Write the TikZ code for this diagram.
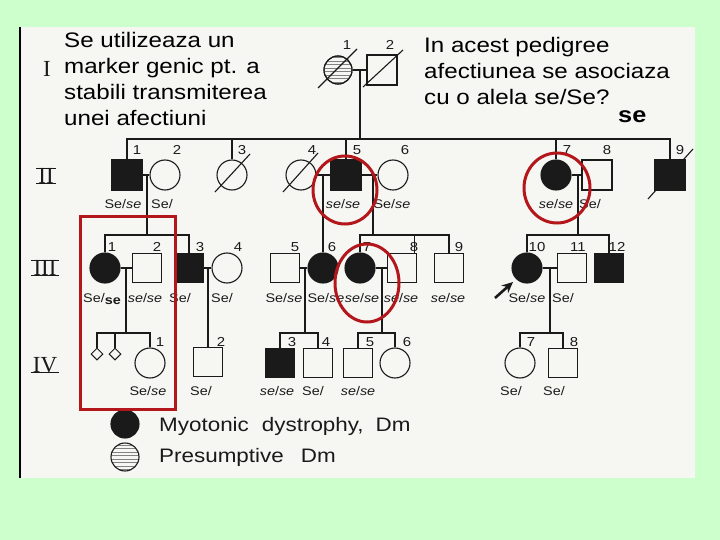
\documentclass[tikz,border=0pt]{standalone}
\usepackage{fontspec}
\setmainfont{Liberation Sans}[FakeStretch=1.15]
\newfontfamily\romanfont{Liberation Serif}
\usetikzlibrary{arrows.meta,shapes.geometric}
\definecolor{bgc}{HTML}{CCFFCC}
\definecolor{paper}{HTML}{F6F6F3}
\definecolor{ink}{HTML}{1A1A1A}
\definecolor{redc}{HTML}{B3161B}
\tikzset{
 ln/.style={draw=ink, line width=1.1pt},
 sq/.style={rectangle, draw=ink, line width=1.1pt, minimum size=29pt, inner sep=0pt},
 ci/.style={circle, draw=ink, line width=1.1pt, minimum size=30pt, inner sep=0pt},
 aff/.style={fill=ink},
 dia/.style={diamond, draw=ink, line width=1pt, minimum size=12pt, inner sep=0pt},
 num/.style={font=\fontsize{13}{13}\selectfont, text=ink, inner sep=0pt},
 gt/.style={font=\fontsize{12.5}{13}\selectfont, text=ink, inner sep=0pt, anchor=base},
 slidetxt/.style={font=\fontsize{21}{26}\selectfont, anchor=base west, inner sep=0pt, text=black},
 legtxt/.style={font=\fontsize{19.5}{22}\selectfont, anchor=base west, inner sep=0pt, text=ink},
 gennum/.style={font=\romanfont\fontsize{23}{23}\selectfont, inner sep=0pt, text=ink},
 genbar/.style={draw=ink, line width=1.4pt},
 redmark/.style={draw=redc, line width=3pt},
 hatch/.style={draw=ink!55, line width=0.45pt},
}
\begin{document}
\begin{tikzpicture}[x=1pt,y=-1pt]
\useasboundingbox (0,0) rectangle (720,540);
\fill[bgc] (0,0) rectangle (720,540);
\fill[paper] (20,27) rectangle (695,478);
\draw[black, line width=2pt] (20,27) -- (20,478);

% slide texts
\node[slidetxt] (ta) at (64,48) {Se utilizeaza un};
\node[slidetxt] (tb) at (64,74) {marker genic pt. a};
\node[slidetxt] (tc) at (64,100) {stabili transmiterea};
\node[slidetxt] (td) at (64,126) {unei afectiuni};
\node[slidetxt] (ra) at (424,53) {In acest pedigree};
\node[slidetxt] (rb) at (424,79) {afectiunea se asociaza};
\node[slidetxt] (rc) at (424,105) {cu o alela se/Se?};
\node[slidetxt, font=\fontsize{22}{22}\selectfont\bfseries] (rd) at (618,123) {se};

% generation numerals
\node[gennum] (gI) at (47,69) {I};
\node[gennum] (gII) at (46,176) {II};
\draw[genbar] ([xshift=-2pt]gII.north west) -- ([xshift=2pt]gII.north east);
\draw[genbar] ([xshift=-2pt]gII.base west) -- ([xshift=2pt]gII.base east);
\node[gennum] (gIII) at (45,268) {III};
\draw[genbar] ([xshift=-2pt]gIII.north west) -- ([xshift=2pt]gIII.north east);
\draw[genbar] ([xshift=-2pt]gIII.base west) -- ([xshift=2pt]gIII.base east);
\node[gennum] (gIV) at (45,365) {IV};
\draw[genbar] ([xshift=-2pt]gIV.base west) -- ([xshift=2pt]gIV.base east);

% generation I
\node[ci, minimum size=28pt] (I1) at (338,70) {};
\begin{scope}
\clip (338,70) circle [radius=14pt];
\foreach \yy in {57.5,61,...,84} \draw[hatch] (322,\yy) -- (354,\yy);
\end{scope}
\node[ci, fill=none, minimum size=28pt] (I1b) at (338,70) {};
\node[sq, minimum size=30pt] (I2) at (382,70) {};
\draw[ln] ([shift={(-20,18)}]I1.center) -- ([shift={(19,-21)}]I1.center);
\draw[ln] ([shift={(-19,17)}]I2.center) -- ([shift={(21,-20)}]I2.center);
\node[num] (nI1) at (347,45) {1};
\node[num] (nI2) at (390,45) {2};

% generation II
\node[sq, aff, minimum size=30pt] (II1) at (127,175) {};
\node[ci] (II2) at (165,175) {};
\node[ci] (II3) at (232,175) {};
\node[ci] (II4) at (301,175) {};
\node[sq, aff, minimum size=30pt] (II5) at (346,175) {};
\node[ci] (II6) at (393,175) {};
\node[ci, aff] (II7) at (556,175) {};
\node[sq, minimum size=30pt] (II8) at (597,175) {};
\node[sq, aff, minimum size=30pt] (II9) at (670,175) {};
\draw[ln] ([shift={(-17,17)}]II3.center) -- ([shift={(18,-21)}]II3.center);
\draw[ln] ([shift={(-18,17)}]II4.center) -- ([shift={(17,-22)}]II4.center);
\draw[ln] ([shift={(-22,24)}]II9.center) -- ([shift={(23,-26)}]II9.center);
\node[num] (nII1) at (137,150) {1};
\node[num] (nII2) at (177,150) {2};
\node[num] (nII3) at (242,150) {3};
\node[num] (nII4) at (312,150) {4};
\node[num] (nII5) at (357,150) {5};
\node[num] (nII6) at (405,150) {6};
\node[num] (nII7) at (567,150) {7};
\node[num] (nII8) at (607,150) {8};
\node[num] (nII9) at (680,150) {9};

% generation III
\node[ci, aff] (III1) at (105,268) {};
\node[sq] (III2) at (147,268) {};
\node[sq, aff] (III3) at (189,268) {};
\node[ci] (III4) at (227,268) {};
\node[sq] (III5) at (285,268) {};
\node[ci, aff] (III6) at (323,268) {};
\node[ci, aff] (III7) at (360,268) {};
\node[sq] (III8) at (402,268) {};
\node[sq] (III9) at (449,268) {};
\node[ci, aff] (III10) at (527,268) {};
\node[sq] (III11) at (572,268) {};
\node[sq, aff] (III12) at (609,268) {};
\node[num] (nIII1) at (112,247) {1};
\node[num] (nIII2) at (157,247) {2};
\node[num] (nIII3) at (200,247) {3};
\node[num] (nIII4) at (238,247) {4};
\node[num] (nIII5) at (295,247) {5};
\node[num] (nIII6) at (332,247) {6};
\node[num] (nIII7) at (367,247) {7};
\node[num] (nIII8) at (414,247) {8};
\node[num] (nIII9) at (459,247) {9};
\node[num] (nIII10) at (537,247) {10};
\node[num] (nIII11) at (578,247) {11};
\node[num] (nIII12) at (617,247) {12};

% generation IV
\node[dia] (IVd1) at (97,354) {};
\node[dia] (IVd2) at (115,354) {};
\node[ci] (IV1) at (150,363) {};
\node[sq] (IV2) at (208,362) {};
\node[sq, aff] (IV3) at (280,363) {};
\node[sq] (IV4) at (318,363) {};
\node[sq] (IV5) at (358,363) {};
\node[ci] (IV6) at (395,363) {};
\node[ci] (IV7) at (520,363) {};
\node[sq] (IV8) at (563,363) {};
\node[num] (nIV1) at (160,342) {1};
\node[num] (nIV2) at (221,342) {2};
\node[num] (nIV3) at (292,342) {3};
\node[num] (nIV4) at (326,342) {4};
\node[num] (nIV5) at (370,342) {5};
\node[num] (nIV6) at (407,342) {6};
\node[num] (nIV7) at (531,342) {7};
\node[num] (nIV8) at (574,342) {8};

% connectors: generation I -> II
\draw[ln] (I1) -- (I2);
\coordinate (cI) at (360,70);
\coordinate (hI) at (360,139);
\draw[ln] (cI) -- (hI);
\draw[ln] (hI) -| (II1);
\draw[ln] (hI) -| (II3);
\draw[ln] (hI) -| (II5);
\draw[ln] (hI) -| (II7);
\draw[ln] (hI) -| (II9);

% generation II -> III
\draw[ln] (II1) -- (II2);
\coordinate (c21) at (147,175);
\coordinate (h21) at (147,235);
\draw[ln] (c21) -- (h21);
\draw[ln] (h21) -| (III1);
\draw[ln] (h21) -| (III3);
\draw[ln] (II4) -- (II5);
\coordinate (c45) at (323,175);
\draw[ln] (c45) -- (III6);
\draw[ln] (II5) -- (II6);
\coordinate (c56) at (373,175);
\coordinate (h56) at (373,235);
\draw[ln] (c56) -- (h56);
\draw[ln] (h56) -| (III7);
\draw[ln] (h56) -| ([xshift=-3pt]III8.north east);
\draw[ln] (h56) -| (III9);
\draw[ln] (II7) -- (II8);
\coordinate (c78) at (578,175);
\coordinate (h78) at (578,235);
\draw[ln] (c78) -- (h78);
\draw[ln] (h78) -| (III10);
\draw[ln] (h78) -| (III12);

% generation III -> IV
\draw[ln] (III1) -- (III2);
\coordinate (c3a) at (126,268);
\coordinate (h3a) at (126,333);
\draw[ln] (c3a) -- (h3a);
\draw[ln] (h3a) -| (IVd1);
\draw[ln] (h3a) -| (IVd2);
\draw[ln] (h3a) -| (IV1);
\draw[ln] (III3) -- (III4);
\coordinate (c3b) at (208,268);
\draw[ln] (c3b) -- (IV2);
\draw[ln] (III5) -- (III6);
\coordinate (c3c) at (305,268);
\coordinate (h3c) at (305,333);
\draw[ln] (c3c) -- (h3c);
\draw[ln] (h3c) -| (IV3);
\draw[ln] (h3c) -| (IV4);
\draw[ln] (III7) -- (III8);
\coordinate (c3d) at (382,268);
\coordinate (h3d) at (382,333);
\draw[ln] (c3d) -- (h3d);
\draw[ln] (h3d) -| (IV5);
\draw[ln] (h3d) -| (IV6);
\draw[ln] (III10) -- (III11);
\coordinate (c3e) at (550,268);
\coordinate (h3e) at (550,333);
\draw[ln] (c3e) -- (h3e);
\draw[ln] (h3e) -| (IV7);
\draw[ln] (h3e) -| (IV8);

% proband arrow
\draw[ink, line width=2.6pt, -{Stealth[length=11pt,width=10pt]}] ([shift={(-32,30)}]III10.center) -- ([shift={(-14,14)}]III10.center);

% genotype labels generation II
\node[gt] (gII1) at (123,208) {Se/\textit{se}};
\node[gt] (gII2) at (162,208) {Se/};
\node[gt] (gII5) at (343,208) {\textit{se}/\textit{se}};
\node[gt] (gII6) at (392,208) {Se/\textit{se}};
\node[gt] (gII7) at (556,208) {\textit{se}/\textit{se}};
\node[gt] (gII8) at (590,208) {Se/};
% generation III
\node[gt, anchor=base west] (gIII1) at (83,302) {Se/\raisebox{-2pt}{\bfseries se}};
\node[gt] (gIII2) at (145,302) {\textit{se}/\textit{se}};
\node[gt] (gIII3) at (180,302) {Se/};
\node[gt] (gIII4) at (222,302) {Se/};
\node[gt] (gIII5) at (284,302) {Se/\textit{se}};
\node[gt] (gIII6) at (326,302) {Se/\textit{se}};
\node[gt] (gIII7) at (362,302) {\textit{se}/\textit{se}};
\node[gt] (gIII8) at (401,302) {\textit{se}/\textit{se}};
\node[gt] (gIII9) at (448,302) {\textit{se}/\textit{se}};
\node[gt] (gIII10) at (527,302) {Se/\textit{se}};
\node[gt] (gIII11) at (563,302) {Se/};
% generation IV
\node[gt] (gIV1) at (148,395) {Se/\textit{se}};
\node[gt] (gIV2) at (201,395) {Se/};
\node[gt] (gIV3) at (277,395) {\textit{se}/\textit{se}};
\node[gt] (gIV4) at (313,395) {Se/};
\node[gt] (gIV5) at (358,395) {\textit{se}/\textit{se}};
\node[gt] (gIV7) at (511,395) {Se/};
\node[gt] (gIV8) at (554,395) {Se/};

% legend
\node[ci, aff, minimum size=28pt] (L1) at (125,424) {};
\begin{scope}
\clip (125,457) circle [radius=14pt];
\foreach \yy in {445,448.5,...,470} \draw[hatch] (110,\yy) -- (140,\yy);
\end{scope}
\node[ci, minimum size=28pt] (L2) at (125,457) {};
\node[legtxt] (Lt1) at (159,431) {Myotonic\hspace{13pt}dystrophy,\hspace{12pt}Dm};
\node[legtxt] (Lt2) at (159,462) {Presumptive\hspace{17pt}Dm};

% red annotations
\draw[redmark] (80,217) rectangle (175,409);
\draw[redmark] (345,190) ellipse [x radius=32pt, y radius=34pt];
\draw[redmark] (557,188) ellipse [x radius=33pt, y radius=35pt];
\draw[redmark] (367,283) ellipse [x radius=32pt, y radius=39pt];
\end{tikzpicture}
\end{document}
